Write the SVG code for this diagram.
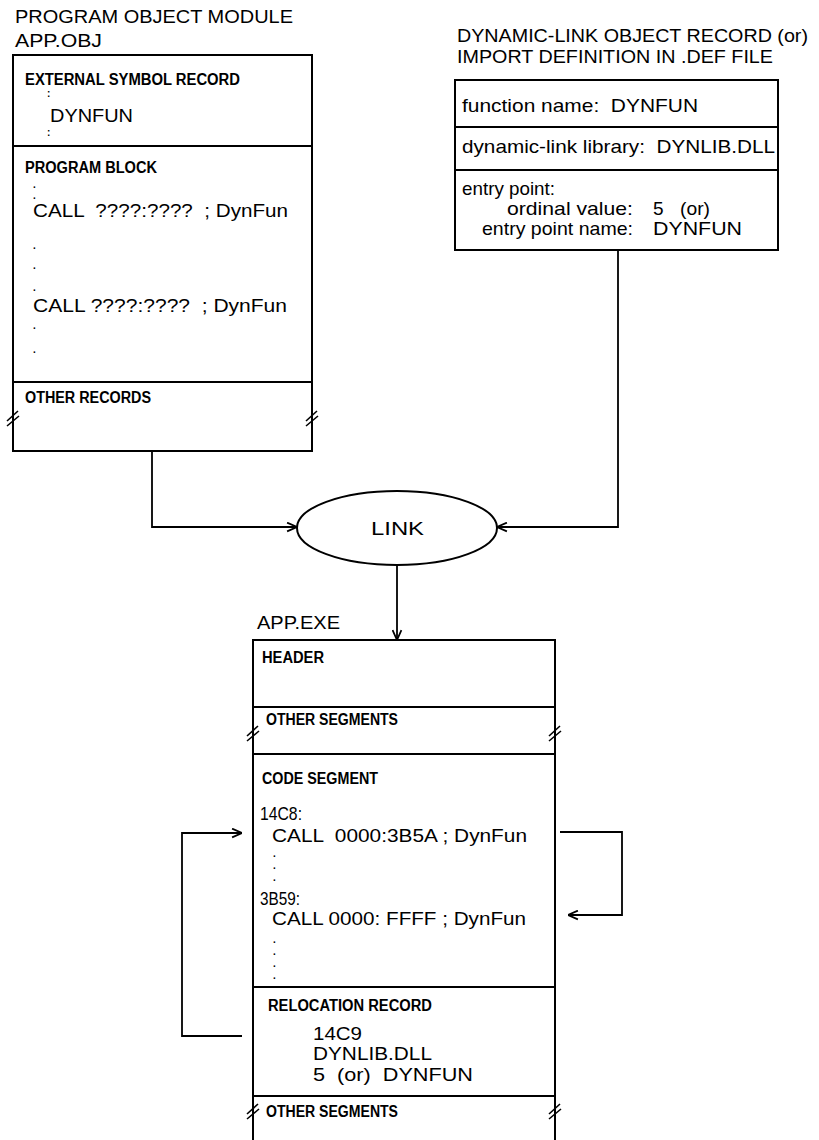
<svg xmlns="http://www.w3.org/2000/svg" xmlns:xlink="http://www.w3.org/1999/xlink" width="819" height="1140" viewBox="0 0 819 1140">
<style>
  .box{fill:none;stroke:#000;stroke-width:2}
  .ln{fill:none;stroke:#000;stroke-width:1.8}
  .t{font-family:"Liberation Sans",Arial,sans-serif;font-size:19px;fill:#000}
  .h{font-family:"Liberation Sans",Arial,sans-serif;font-size:16px;font-weight:bold;fill:#000}
  .d{font-family:"Liberation Sans",Arial,sans-serif;font-size:10px;font-weight:bold;fill:#000}
  .brk{fill:none;stroke:#000;stroke-width:1.6}
</style>
<defs>
  <marker id="arr" viewBox="0 0 10 10" refX="10" refY="5" markerWidth="11" markerHeight="11" markerUnits="userSpaceOnUse" orient="auto">
    <path d="M1,1 L10,5 L1,9" fill="none" stroke="#000" stroke-width="1.6"/>
  </marker>
  <path id="brkmark" class="brk" d="M-6,4 L5,-6 M-6,9 L6,-1"/>
</defs>
<rect width="819" height="1140" fill="#fff"/>

<g id="obj-module">
  <text class="t" x="15" y="23" textLength="278" lengthAdjust="spacingAndGlyphs">PROGRAM OBJECT MODULE</text>
  <text class="t" x="15" y="47" textLength="87" lengthAdjust="spacingAndGlyphs">APP.OBJ</text>
  <path class="box" d="M13,55 H312 V451 H13 Z M13,146 H312 M13,382 H312"/>
  <use xlink:href="#brkmark" x="13" y="417"/>
  <use xlink:href="#brkmark" x="312" y="417"/>
  <text class="h" x="25" y="85" textLength="215" lengthAdjust="spacingAndGlyphs">EXTERNAL SYMBOL RECORD</text>
  <text class="d" x="47" y="97">:</text>
  <text class="t" x="50" y="122" textLength="83" lengthAdjust="spacingAndGlyphs">DYNFUN</text>
  <text class="d" x="47" y="136">:</text>
  <text class="h" x="25" y="173" textLength="132" lengthAdjust="spacingAndGlyphs">PROGRAM BLOCK</text>
  <text class="d" x="33" y="188">.</text>
  <text class="d" x="33" y="199" font-size="8">.</text>
  <text class="t" x="33" y="217" textLength="255" lengthAdjust="spacingAndGlyphs" xml:space="preserve">CALL  ????:????  ; DynFun</text>
  <text class="d" x="33" y="249">.</text>
  <text class="d" x="33" y="269">.</text>
  <text class="d" x="33" y="291">.</text>
  <text class="t" x="33" y="312" textLength="254" lengthAdjust="spacingAndGlyphs" xml:space="preserve">CALL ????:????  ; DynFun</text>
  <text class="d" x="33" y="329">.</text>
  <text class="d" x="33" y="353">.</text>
  <text class="h" x="25" y="403" textLength="126" lengthAdjust="spacingAndGlyphs">OTHER RECORDS</text>
</g>

<g id="dll-record">
  <text class="t" x="457" y="42" textLength="351" lengthAdjust="spacingAndGlyphs">DYNAMIC-LINK OBJECT RECORD (or)</text>
  <text class="t" x="457" y="63" textLength="316" lengthAdjust="spacingAndGlyphs">IMPORT DEFINITION IN .DEF FILE</text>
  <path class="box" d="M455,80 H778 V250 H455 Z M455,127 H778 M455,170 H778"/>
  <text class="t" x="462" y="112" textLength="236" lengthAdjust="spacingAndGlyphs" xml:space="preserve">function name:  DYNFUN</text>
  <text class="t" x="462" y="153" textLength="313" lengthAdjust="spacingAndGlyphs" xml:space="preserve">dynamic-link library:  DYNLIB.DLL</text>
  <text class="t" x="462" y="195" textLength="93" lengthAdjust="spacingAndGlyphs">entry point:</text>
  <text class="t" x="507" y="215" textLength="126" lengthAdjust="spacingAndGlyphs">ordinal value:</text>
  <text class="t" x="653" y="215">5</text>
  <text class="t" x="680" y="215" textLength="30" lengthAdjust="spacingAndGlyphs">(or)</text>
  <text class="t" x="482" y="235" textLength="151" lengthAdjust="spacingAndGlyphs">entry point name:</text>
  <text class="t" x="653" y="235" textLength="89" lengthAdjust="spacingAndGlyphs">DYNFUN</text>
</g>

<g id="link">
  <ellipse class="box" cx="397" cy="528" rx="100" ry="37"/>
  <text class="t" x="371" y="535" font-size="20" textLength="53" lengthAdjust="spacingAndGlyphs">LINK</text>
</g>

<g id="app-exe">
  <text class="t" x="257" y="629" textLength="83" lengthAdjust="spacingAndGlyphs">APP.EXE</text>
  <path class="box" d="M253,1140 V640 H555 V1140 M253,707 H555 M253,754 H555 M253,987 H555 M253,1096 H555"/>
  <use xlink:href="#brkmark" x="253" y="732"/>
  <use xlink:href="#brkmark" x="555" y="732"/>
  <use xlink:href="#brkmark" x="253" y="1110"/>
  <use xlink:href="#brkmark" x="555" y="1110"/>
  <text class="h" x="262" y="663" textLength="62" lengthAdjust="spacingAndGlyphs">HEADER</text>
  <text class="h" x="266" y="725" textLength="132" lengthAdjust="spacingAndGlyphs">OTHER SEGMENTS</text>
  <text class="h" x="262" y="784" textLength="116" lengthAdjust="spacingAndGlyphs">CODE SEGMENT</text>
  <text class="t" x="260" y="820" textLength="42" lengthAdjust="spacingAndGlyphs">14C8:</text>
  <text class="t" x="272" y="842" textLength="255" lengthAdjust="spacingAndGlyphs" xml:space="preserve">CALL  0000:3B5A ; DynFun</text>
  <text class="d" x="273" y="857">.</text>
  <text class="d" x="273" y="869">.</text>
  <text class="d" x="273" y="881">.</text>
  <text class="t" x="260" y="905" textLength="40" lengthAdjust="spacingAndGlyphs">3B59:</text>
  <text class="t" x="272" y="925" textLength="254" lengthAdjust="spacingAndGlyphs" xml:space="preserve">CALL 0000: FFFF ; DynFun</text>
  <text class="d" x="273" y="943">.</text>
  <text class="d" x="273" y="955">.</text>
  <text class="d" x="273" y="967">.</text>
  <text class="d" x="273" y="979">.</text>
  <text class="h" x="268" y="1011" textLength="164" lengthAdjust="spacingAndGlyphs">RELOCATION RECORD</text>
  <text class="t" x="313" y="1040" textLength="49" lengthAdjust="spacingAndGlyphs">14C9</text>
  <text class="t" x="313" y="1060" textLength="119" lengthAdjust="spacingAndGlyphs">DYNLIB.DLL</text>
  <text class="t" x="313" y="1081" textLength="160" lengthAdjust="spacingAndGlyphs" xml:space="preserve">5  (or)  DYNFUN</text>
  <text class="h" x="266" y="1117" textLength="132" lengthAdjust="spacingAndGlyphs">OTHER SEGMENTS</text>
</g>

<g id="connectors">
  <polyline class="ln" points="152,451 152,527 297,527" marker-end="url(#arr)"/>
  <polyline class="ln" points="618,250 618,527 497,527" marker-end="url(#arr)"/>
  <polyline class="ln" points="397,565 397,640" marker-end="url(#arr)"/>
  <polyline class="ln" points="242,1036 182,1036 182,833 242,833" marker-end="url(#arr)"/>
  <polyline class="ln" points="560,832 622,832 622,915 568,915" marker-end="url(#arr)"/>
</g>
</svg>
